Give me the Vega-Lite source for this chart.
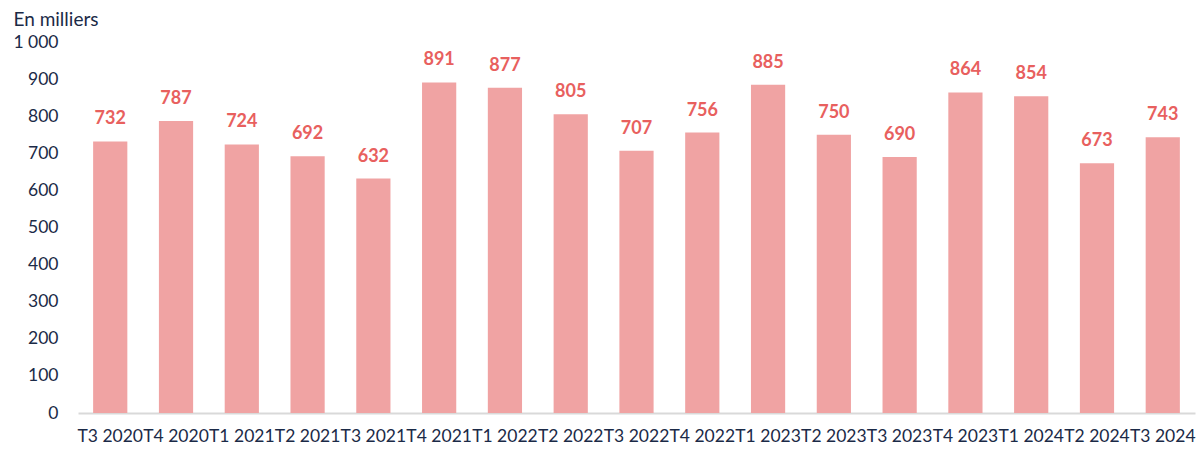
{
  "$schema": "https://vega.github.io/schema/vega-lite/v6.json",
  "width": 1117,
  "height": 371,
  "autosize": {"type": "none"},
  "padding": {"left": 78, "top": 42, "right": 9, "bottom": 39},
  "background": "white",
  "config": {"view": {"stroke": null}, "font": "Lato"},
  "data": {
    "values": [
      {"q": "T3 2020", "v": 732},
      {"q": "T4 2020", "v": 787},
      {"q": "T1 2021", "v": 724},
      {"q": "T2 2021", "v": 692},
      {"q": "T3 2021", "v": 632},
      {"q": "T4 2021", "v": 891},
      {"q": "T1 2022", "v": 877},
      {"q": "T2 2022", "v": 805},
      {"q": "T3 2022", "v": 707},
      {"q": "T4 2022", "v": 756},
      {"q": "T1 2023", "v": 885},
      {"q": "T2 2023", "v": 750},
      {"q": "T3 2023", "v": 690},
      {"q": "T4 2023", "v": 864},
      {"q": "T1 2024", "v": 854},
      {"q": "T2 2024", "v": 673},
      {"q": "T3 2024", "v": 743}
    ]
  },
  "encoding": {
    "x": {
      "field": "q", "type": "nominal", "sort": null,
      "scale": {"paddingInner": 0.48, "paddingOuter": 0.23},
      "axis": {
        "title": null, "labelAngle": 0, "labelFont": "Lato", "labelFontSize": 17.5,
        "labelColor": "#1B2A47", "labelOverlap": false, "labelBound": false,
        "labelPadding": 14, "ticks": false, "domainColor": "#D9D9D9", "domainWidth": 2,
        "labelFlush": false
      }
    },
    "y": {
      "field": "v", "type": "quantitative",
      "scale": {"domain": [0, 1000], "nice": false},
      "axis": {
        "values": [0, 100, 200, 300, 400, 500, 600, 700, 800, 900, 1000],
        "labelExpr": "datum.value == 1000 ? '1 000' : datum.label",
        "grid": false, "domain": false, "ticks": false,
        "labelFont": "Lato", "labelFontSize": 17.5, "labelColor": "#1B2A47",
        "labelPadding": 20,
        "title": "En milliers", "titleAngle": 0, "titleAlign": "left",
        "titleBaseline": "alphabetic", "titleX": -65, "titleY": -17,
        "titleFont": "Lato", "titleFontSize": 19, "titleFontWeight": "normal",
        "titleColor": "#1B2A47"
      }
    }
  },
  "layer": [
    {"mark": {"type": "bar", "color": "#F0A3A3"}},
    {
      "mark": {"type": "text", "baseline": "alphabetic", "dy": -17, "font": "Lato",
               "fontSize": 18, "fontWeight": "bold", "color": "#E8605E"},
      "encoding": {"text": {"field": "v", "type": "quantitative"}}
    }
  ]
}
